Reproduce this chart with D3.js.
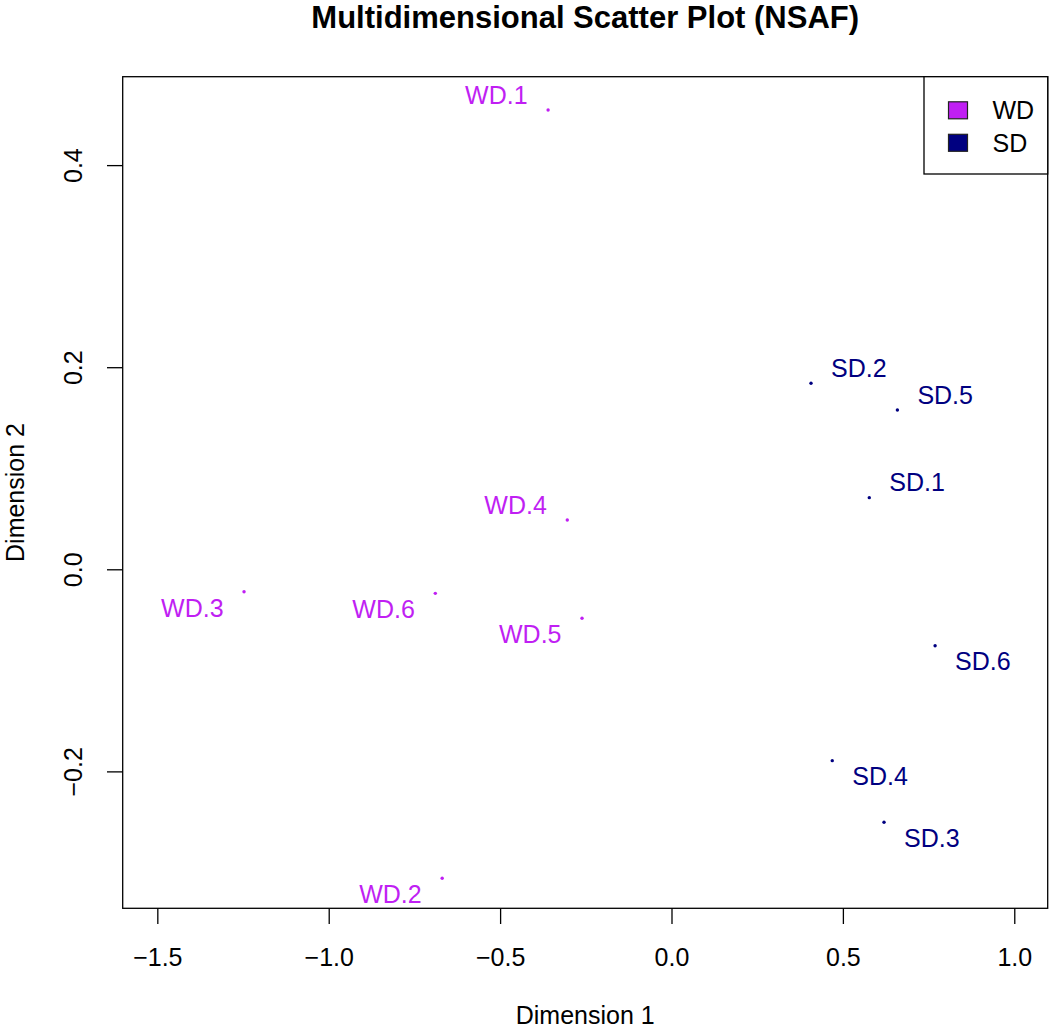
<!DOCTYPE html>
<html>
<head>
<meta charset="utf-8">
<script src="https://cdn.jsdelivr.net/npm/d3@7"></script>
<style>
  html, body { margin: 0; padding: 0; background: #fff; }
  svg { display: block; font-family: "Liberation Sans", Arial, Helvetica, sans-serif; }
</style>
</head>
<body>
<svg id="chart" width="1050" height="1031"></svg>
<script>
// ---- data ----
const labels = ["WD.1","WD.2","WD.3","WD.4","WD.5","WD.6","SD.1","SD.2","SD.3","SD.4","SD.5","SD.6"];
const groups = ["WD","WD","WD","WD","WD","WD","SD","SD","SD","SD","SD","SD"];
const dim1 = [-0.360, -0.669, -1.247, -0.304, -0.261, -0.689, 0.577, 0.407, 0.620, 0.469, 0.659, 0.769];
const dim2 = [0.4546, -0.3058, -0.0222, 0.0488, -0.0485, -0.0238, 0.0709, 0.1841, -0.2504, -0.1894, 0.1576, -0.0756];
// label placement relative to point: h = left/right, v = up/down
const labelH = ["L","L","L","L","L","L","R","R","R","R","R","R"];
const labelV = ["U","D","D","U","D","D","U","U","D","D","U","D"];
const xTicks = [-1.5, -1.0, -0.5, 0.0, 0.5, 1.0];
const yTicks = [-0.2, 0.0, 0.2, 0.4];
const legendKeys = ["WD", "SD"];
const groupColors = ["#C01FF3", "#000080"];
const title = "Multidimensional Scatter Plot (NSAF)";
const xTitle = "Dimension 1";
const yTitle = "Dimension 2";

// ---- layout ----
const svg = d3.select("#chart");
const L = 122.7, R = 1047.7, T = 76.7, B = 908.3;
const x = d3.scaleLinear().domain([-1.601, 1.0975]).range([L, R]);
const y = d3.scaleLinear().domain([-0.3355, 0.4875]).range([B, T]);
const color = d3.scaleOrdinal().domain(legendKeys).range(groupColors);
const fmt = d3.format(".1f");
const minusFmt = v => fmt(v).replace("-", "\u2212");

// title
svg.append("text")
  .attr("x", (L + R) / 2).attr("y", 28)
  .attr("text-anchor", "middle")
  .attr("font-size", 31).attr("font-weight", "bold")
  .text(title);

// axes
const xAxis = d3.axisBottom(x).tickValues(xTicks).tickFormat(minusFmt).tickSize(15.7).tickPadding(0).tickSizeOuter(0);
const gx = svg.append("g").attr("transform", `translate(0,${B})`).call(xAxis);
gx.select(".domain").remove();
gx.selectAll("line").attr("stroke", "#000").attr("stroke-width", 1.3);
gx.selectAll("text").attr("font-size", 25).attr("fill", "#000")
  .attr("dy", null).attr("y", 58).attr("font-family", "Liberation Sans, Arial, sans-serif");

const yAxis = d3.axisLeft(y).tickValues(yTicks).tickFormat(minusFmt).tickSize(15.7).tickPadding(0).tickSizeOuter(0);
const gy = svg.append("g").attr("transform", `translate(${L},0)`).call(yAxis);
gy.select(".domain").remove();
gy.selectAll("line").attr("stroke", "#000").attr("stroke-width", 1.3);
gy.selectAll(".tick text")
  .attr("font-size", 25).attr("fill", "#000")
  .attr("x", null).attr("dy", null)
  .attr("text-anchor", "middle")
  .attr("transform", "translate(-41,0) rotate(-90)")
  .attr("y", 0)
  .attr("font-family", "Liberation Sans, Arial, sans-serif");

// plot box
svg.append("rect")
  .attr("x", L).attr("y", T).attr("width", R - L).attr("height", B - T)
  .attr("fill", "none").attr("stroke", "#000").attr("stroke-width", 1.3);

// axis titles
svg.append("text")
  .attr("x", (L + R) / 2).attr("y", 1024)
  .attr("text-anchor", "middle").attr("font-size", 25)
  .text(xTitle);
svg.append("text")
  .attr("transform", `translate(24,${(T + B) / 2}) rotate(-90)`)
  .attr("text-anchor", "middle").attr("font-size", 25)
  .text(yTitle);

// points & labels
const pts = labels.map((d, i) => ({label: d, group: groups[i], x: dim1[i], y: dim2[i], h: labelH[i], v: labelV[i]}));
const g = svg.append("g");
g.selectAll("circle").data(pts).join("circle")
  .attr("cx", d => x(d.x)).attr("cy", d => y(d.y))
  .attr("r", 1.7).attr("fill", d => color(d.group));
g.selectAll("text").data(pts).join("text")
  .attr("x", d => x(d.x) + (d.h === "L" ? -20.5 : 20))
  .attr("y", d => y(d.y) + (d.v === "U" ? -6.3 : 24.8))
  .attr("text-anchor", d => d.h === "L" ? "end" : "start")
  .attr("font-size", 25)
  .attr("fill", d => color(d.group))
  .text(d => d.label);

// legend
const lg = svg.append("g");
const lgX = 924, lgY = T;
lg.append("rect")
  .attr("x", lgX).attr("y", lgY).attr("width", R - lgX).attr("height", 174 - lgY)
  .attr("fill", "#fff").attr("stroke", "#000").attr("stroke-width", 1.3);
legendKeys.forEach((k, i) => {
  const cy = 110.3 + i * 32.5;
  lg.append("rect")
    .attr("x", 948.5).attr("y", cy - 8.5).attr("width", 19).attr("height", 17)
    .attr("fill", color(k)).attr("stroke", "#222").attr("stroke-width", 1.2);
  lg.append("text")
    .attr("x", 992.5).attr("y", cy + 9)
    .attr("font-size", 25).attr("fill", "#000")
    .text(k);
});
</script>
</body>
</html>
